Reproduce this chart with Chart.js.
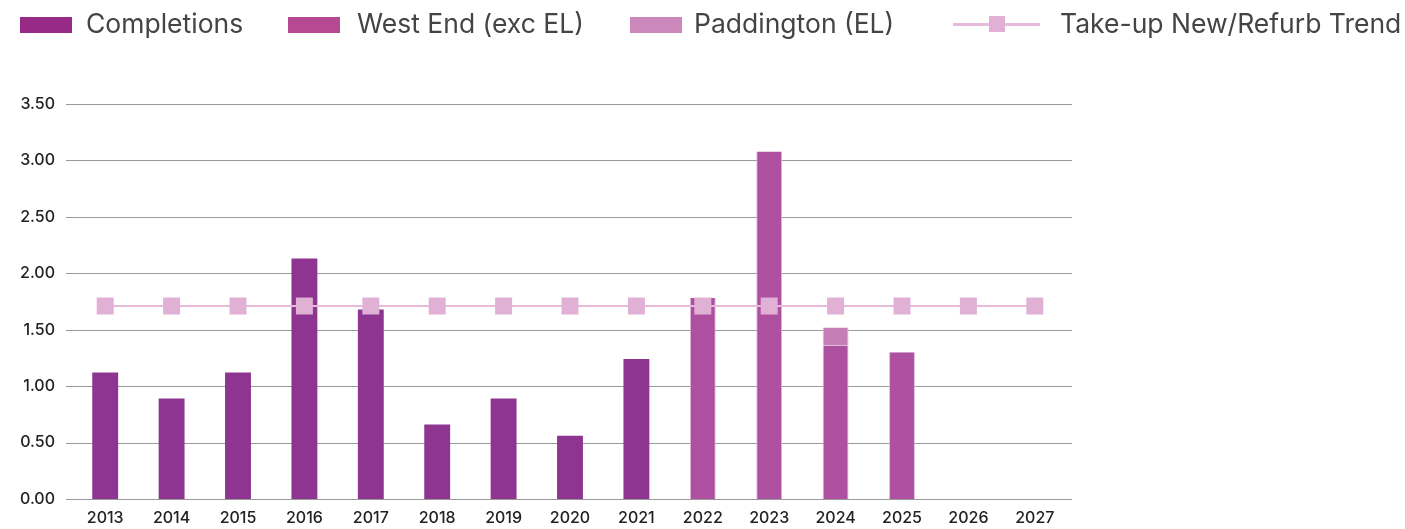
<!DOCTYPE html>
<html>
<head>
<meta charset="utf-8">
<script src="https://cdn.jsdelivr.net/npm/chart.js@4"></script>
<style>
  html, body { margin: 0; padding: 0; background: #fff; }
  #wrap { position: relative; width: 1405px; height: 529px; }
  #chart { position: absolute; left: 0; top: 0; }
  .leg { position: absolute; top: 8px; font-family: Inter, "Noto Sans", sans-serif; font-size: 26.5px; color: #444; white-space: nowrap; line-height: 30px; }
  .leg .box { position: absolute; top: 9px; width: 52px; height: 16px; }
  .leg .ln { position: absolute; top: 15px; width: 87px; height: 3px; }
  .leg .mk { position: absolute; left: 36px; width: 16px; height: 16px; }
</style>
</head>
<body>
<div id="wrap">
  <canvas id="chart" width="1405" height="529"></canvas>
  <div class="leg" style="left:20px"><span class="box" style="background:#962A86"></span><span style="margin-left:66px">Completions</span></div>
  <div class="leg" style="left:288px"><span class="box" style="background:#B64A92"></span><span style="margin-left:69px">West End (exc EL)</span></div>
  <div class="leg" style="left:630px"><span class="box" style="background:#CC88BB"></span><span style="margin-left:64px">Paddington (EL)</span></div>
  <div class="leg" style="left:953px"><span class="ln" style="background:#E8BBDC"><span class="mk" style="background:#E0B0D5;top:-7px"></span></span><span style="margin-left:107px">Take-up New/Refurb Trend</span></div>
</div>
<script>
"use strict";
// Data
const years = ["2013","2014","2015","2016","2017","2018","2019","2020","2021","2022","2023","2024","2025","2026","2027"];
const completions = [1.12, 0.89, 1.12, 2.13, 1.68, 0.66, 0.89, 0.56, 1.24, null, null, null, null, null, null];
const westEnd = [null, null, null, null, null, null, null, null, null, 1.78, 3.08, 1.36, 1.30, null, null];
const paddington = [null, null, null, null, null, null, null, null, null, null, null, 0.16, null, null, null];
const trend = [1.71, 1.71, 1.71, 1.71, 1.71, 1.71, 1.71, 1.71, 1.71, 1.71, 1.71, 1.71, 1.71, 1.71, 1.71];

const ctx = document.getElementById("chart");

const tickFont = { family: "Inter", size: 16, weight: "500" };

// gridlines run a little wider than the category area
const wideGrid = {
  id: "wideGrid",
  beforeDatasetsDraw(chart) {
    const { ctx, chartArea, scales } = chart;
    ctx.save();
    ctx.strokeStyle = "#9a9a9a";
    ctx.lineWidth = 1;
    scales.y.ticks.forEach((t) => {
      const y = Math.round(scales.y.getPixelForValue(t.value)) + 0.5;
      ctx.beginPath();
      ctx.moveTo(chartArea.left - 6, y);
      ctx.lineTo(chartArea.right + 4, y);
      ctx.stroke();
    });
    ctx.restore();
  },
};

new Chart(ctx, {
  type: "bar",
  data: {
    labels: years,
    datasets: [
      {
        type: "line",
        label: "Take-up New/Refurb Trend",
        data: trend,
        borderColor: "#E8BBDC",
        borderWidth: 2,
        backgroundColor: "#E0B0D5",
        pointStyle: "rect",
        pointRadius: 12,
        pointBorderWidth: 0,
        pointBackgroundColor: "#E0B0D5",
        order: 0,
      },
      {
        label: "Completions",
        data: completions,
        backgroundColor: "#8E3592",
        stack: "s",
        order: 1,
      },
      {
        label: "West End (exc EL)",
        data: westEnd,
        backgroundColor: "#AE50A0",
        borderColor: "#E3B5D8",
        borderWidth: { left: 1, right: 1, top: 0, bottom: 0 },
        stack: "s",
        order: 1,
      },
      {
        label: "Paddington (EL)",
        data: paddington,
        backgroundColor: "#C67FB6",
        borderColor: "#E3B5D8",
        borderWidth: { left: 1, right: 1, top: 0, bottom: 0 },
        stack: "s",
        order: 1,
      },
    ],
  },
  options: {
    responsive: false,
    animation: false,
    layout: {
      padding: { top: 104, right: 337, bottom: 0, left: 8 },
    },
    datasets: {
      bar: { barPercentage: 0.39, categoryPercentage: 1.0 },
    },
    plugins: {
      legend: { display: false },
      tooltip: { enabled: false },
    },
    scales: {
      x: {
        stacked: true,
        afterFit: (s) => { s.height = 30; },
        grid: { display: false, drawTicks: false },
        border: { display: false },
        ticks: {
          color: "#222",
          font: tickFont,
          padding: 10,
          maxRotation: 0,
        },
      },
      y: {
        stacked: true,
        min: 0,
        max: 3.5,
        afterFit: (s) => { s.width = 64; },
        grid: { display: false, drawTicks: false },
        border: { display: false },
        ticks: {
          stepSize: 0.5,
          color: "#222",
          font: tickFont,
          padding: 17,
          callback: (v) => Number(v).toFixed(2),
        },
      },
    },
  },
  plugins: [wideGrid],
});
</script>
</body>
</html>
